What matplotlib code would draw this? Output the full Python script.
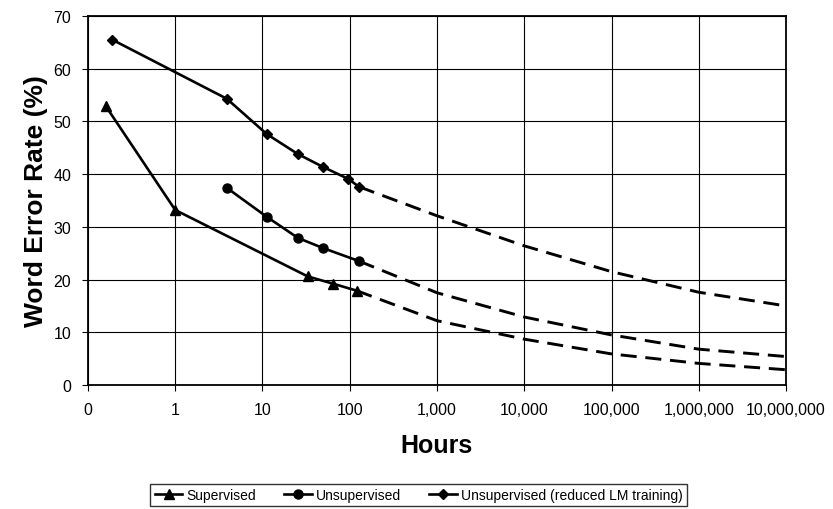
import matplotlib
matplotlib.use("Agg")
import matplotlib.pyplot as plt

plt.rcParams['font.family'] = ['Liberation Sans', 'DejaVu Sans']

# measured points (hours, WER %)
sup_hours = [0.16, 1.0, 33, 65, 120]
sup_wer = [52.9, 33.2, 20.6, 19.2, 17.9]
unsup_hours = [3.9, 11.2, 25.5, 49, 128]
unsup_wer = [37.4, 31.9, 27.9, 26.0, 23.5]
red_hours = [0.19, 3.9, 11.2, 25.5, 49, 96, 128]
red_wer = [65.5, 54.3, 47.6, 43.8, 41.4, 39.1, 37.6]

# projected (dashed) curves
proj_hours = [1000, 10000, 100000, 1000000, 10000000]
sup_proj = [12.2, 8.7, 5.9, 4.1, 2.9]
unsup_proj = [17.5, 12.9, 9.5, 6.8, 5.4]
red_proj = [32.1, 26.4, 21.5, 17.6, 15.0]

xticks = [0.1, 1, 10, 100, 1000, 10000, 100000, 1000000, 10000000]
xlabels = ['0', '1', '10', '100', '1,000', '10,000', '100,000', '1,000,000', '10,000,000']

fig = plt.figure(figsize=(8.33, 5.1), dpi=100)
ax = fig.add_axes([0.1056, 0.2431, 0.838, 0.7236])

lw = 1.9
l1, = ax.plot(sup_hours, sup_wer, color='black', lw=lw, marker='^', ms=7, label='Supervised')
l2, = ax.plot(unsup_hours, unsup_wer, color='black', lw=lw, marker='o', ms=6.5, label='Unsupervised')
l3, = ax.plot(red_hours, red_wer, color='black', lw=lw, marker='D', ms=5.5, label='Unsupervised (reduced LM training)')

for h, w, p in [(sup_hours, sup_wer, sup_proj), (unsup_hours, unsup_wer, unsup_proj),
                (red_hours, red_wer, red_proj)]:
    ax.plot([h[-1]] + proj_hours, [w[-1]] + p, color='black', lw=2.1, ls=(0, (5.5, 3)))

ax.set_xscale('log')
ax.set_xlim(0.1, 10000000)
ax.set_ylim(0, 70)
ax.set_xticks(xticks)
ax.set_xticklabels(xlabels)
ax.minorticks_off()
ax.set_yticks(range(0, 71, 10))
ax.grid(True, color='black', lw=0.8)
for s in ax.spines.values():
    s.set_linewidth(1.3)
ax.tick_params(labelsize=11.5, length=4, direction='out', pad=8)

ax.set_ylabel('Word Error Rate (%)', fontsize=19, fontweight='bold', labelpad=4)
ax.set_xlabel('Hours', fontsize=18, fontweight='bold', labelpad=12)

leg = fig.legend(handles=[l1, l2, l3], loc='lower center', bbox_to_anchor=(0.5025, -0.008),
                 ncol=3, frameon=True, fancybox=False, edgecolor='black', fontsize=10,
                 handlelength=2.0, columnspacing=2.0, borderpad=0.3, handletextpad=0.3)
leg.get_frame().set_linewidth(1.0)

fig.savefig('out.png', dpi=100)
